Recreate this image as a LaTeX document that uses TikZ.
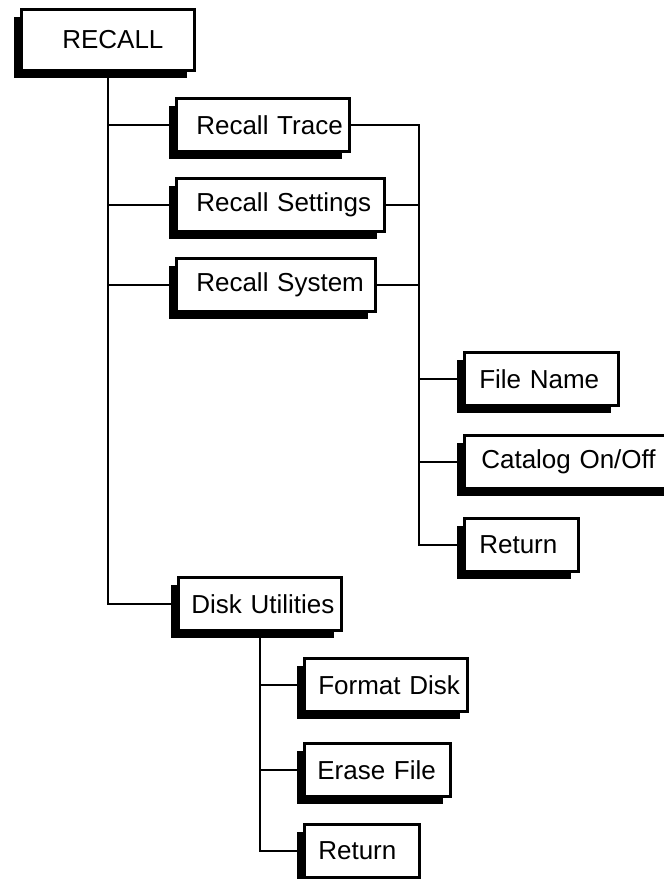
\documentclass[tikz,border=0pt]{standalone}
\usepackage{fontspec}
\setmainfont{Liberation Sans}
\usetikzlibrary{shadows}

\begin{document}
\begin{tikzpicture}[
    x=1pt, y=-1pt,
    font=\fontsize{26}{30}\selectfont,
    box/.style={
      draw=black, line width=2.6pt, fill=white,
      minimum height=53pt, inner xsep=0pt, text width=#1,
      align=left, anchor=west,
      drop shadow={shadow xshift=-7pt, shadow yshift=-7pt, opacity=1, fill=black}
    },
    lpad/.style={execute at begin node={\hspace*{#1}}},
    wire/.style={line width=2.5pt}
  ]
  \useasboundingbox (0,0) rectangle (664,879);
  \node[box=173pt, lpad=41pt, minimum height=61pt] (recall) at (20,40) {RECALL};
  \node[box=173pt, lpad=20pt] (trace)    at (175,125) {Recall Trace};
  \node[box=208pt, lpad=20pt] (settings) at (175,205) {Recall Settings};
  \node[box=199pt, lpad=20pt] (system)   at (175,285) {Recall System};
  \node[box=163pt, lpad=13pt] (disk)     at (177,604) {Disk Utilities};
  \node[box=154pt, lpad=15pt] (fname)    at (463,379) {File Name};
  \node[box=212pt, lpad=17pt] (catalog)  at (463,462) {Catalog On/Off};
  \node[box=114pt, lpad=15pt] (ret1)     at (463,545) {Return};
  \node[box=163pt, lpad=14pt] (format)   at (303,685) {Format Disk};
  \node[box=146pt, lpad=13pt] (erase)    at (303,770) {Erase File};
  \node[box=115pt, lpad=14pt] (ret2)     at (303,851) {Return};
  \coordinate (rbus) at (419,0);
  \draw[wire] (recall.south) -- (recall.south |- disk.west) -- (disk.west);
  \foreach \n in {trace, settings, system}
    \draw[wire] (recall.south |- \n.west) -- (\n.west);
  \draw[wire] (trace.east) -- (rbus |- trace.east) -- (rbus |- ret1.west) -- (ret1.west);
  \foreach \n in {settings, system}
    \draw[wire] (\n.east) -- (rbus |- \n.east);
  \foreach \n in {fname, catalog}
    \draw[wire] (rbus |- \n.west) -- (\n.west);
  \draw[wire] (disk.south) |- (ret2.west);
  \foreach \n in {format, erase}
    \draw[wire] (disk.south |- \n.west) -- (\n.west);
\end{tikzpicture}
\end{document}
